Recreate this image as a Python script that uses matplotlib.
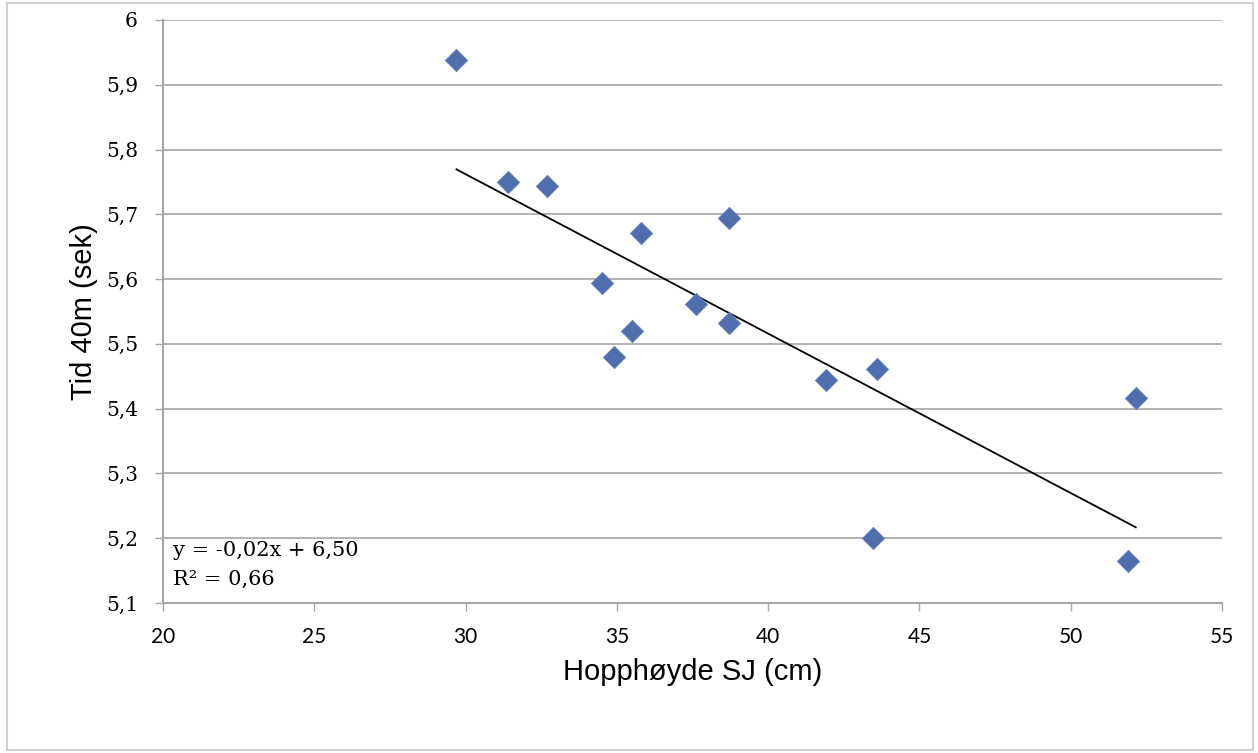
import numpy as np
import matplotlib
matplotlib.use("Agg")
import matplotlib.pyplot as plt
from matplotlib.patches import FancyBboxPatch

# Data
hopp_sj_cm = [29.7, 31.4, 32.7, 35.8, 38.7, 34.5, 37.6, 35.5, 38.7, 34.9, 41.9, 43.6, 52.15, 43.45, 51.9]
tid_40m_sek = [5.938, 5.750, 5.743, 5.671, 5.694, 5.594, 5.561, 5.520, 5.532, 5.479, 5.445, 5.461, 5.416, 5.200, 5.165]
x_ticks = [20, 25, 30, 35, 40, 45, 50, 55]
y_ticks = [5.1, 5.2, 5.3, 5.4, 5.5, 5.6, 5.7, 5.8, 5.9, 6.0]
y_tick_labels = ["5,1", "5,2", "5,3", "5,4", "5,5", "5,6", "5,7", "5,8", "5,9", "6"]

fig = plt.figure(figsize=(12.58, 7.53), dpi=100)
ax = fig.add_axes([163/1258, 1 - 603/753, (1222-163)/1258, (603-20)/753])

grid_col = "#a6a6a6"
ax.set_xlim(20, 55)
ax.set_ylim(5.1, 6.0)
ax.set_xticks(x_ticks)
ax.set_yticks(y_ticks)
ax.set_yticklabels(y_tick_labels)
ax.yaxis.grid(True, color=grid_col, linewidth=1.2)
ax.set_axisbelow(True)
for s in ["top", "right"]:
    ax.spines[s].set_visible(False)
for s in ["left", "bottom"]:
    ax.spines[s].set_color(grid_col)
    ax.spines[s].set_linewidth(1.5)
ax.tick_params(axis="both", colors=grid_col, length=6, width=1.0, labelcolor="black")
ax.tick_params(axis="y", pad=12, labelsize=14.5)
ax.tick_params(axis="x", pad=11, labelsize=15)
for lab in ax.get_xticklabels():
    lab.set_fontfamily("Lato")
for lab in ax.get_yticklabels():
    lab.set_fontfamily("DejaVu Serif")

# Trendline
xs = np.array(hopp_sj_cm)
ys = np.array(tid_40m_sek)
slope, intercept = np.polyfit(xs, ys, 1)
xl = np.array([xs.min(), xs.max()])
ax.plot(xl, slope * xl + intercept, color="black", linewidth=1.3, zorder=2)

ax.scatter(xs, ys, marker="D", s=130, color="#4f6eae", edgecolors="#6a86bd",
           linewidths=0.6, zorder=3)

ax.text(0.009, 0.080, "y = -0,02x + 6,50", transform=ax.transAxes, fontsize=15,
        family="DejaVu Serif", va="baseline", ha="left")
ax.text(0.009, 0.031, "R\u00b2 = 0,66", transform=ax.transAxes, fontsize=15,
        family="DejaVu Serif", va="baseline", ha="left")

ax.set_xlabel("Hopphøyde SJ (cm)", fontsize=21, family="Liberation Sans", labelpad=8)
ax.set_ylabel("Tid 40m (sek)", fontsize=21, family="Liberation Sans", labelpad=6)

# Outer chart border
border = FancyBboxPatch((7/1258, 3/753), (1253-7)/1258, (750-3)/753,
                        boxstyle="square,pad=0", transform=fig.transFigure,
                        fill=False, edgecolor="#d0d0d0", linewidth=1.5)
fig.patches.append(border)

fig.savefig("out.png", dpi=100)
